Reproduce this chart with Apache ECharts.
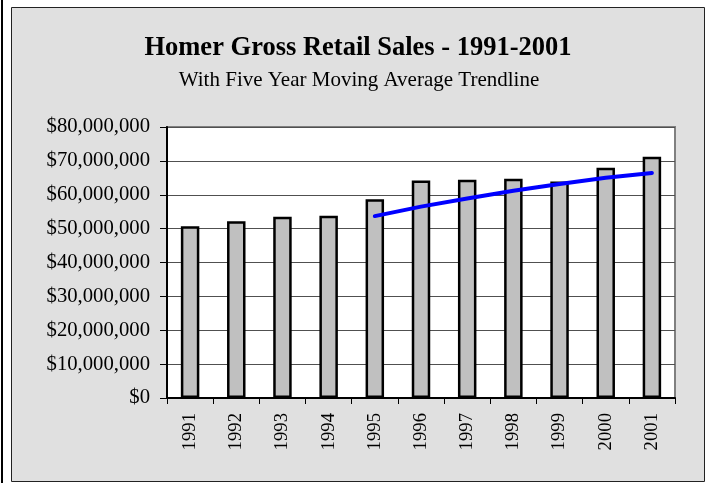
<!DOCTYPE html>
<html>
<head>
<meta charset="utf-8">
<script src="https://cdn.jsdelivr.net/npm/echarts@6/dist/echarts.min.js"></script>
<style>
html,body{margin:0;padding:0;background:#fff;}
#c{width:709px;height:483px;}
</style>
</head>
<body>
<div id="c"></div>
<script>
var years = ['1991','1992','1993','1994','1995','1996','1997','1998','1999','2000','2001'];
var sales = [50700000, 52200000, 53500000, 53800000, 58700000, 64200000, 64400000, 64700000, 63900000, 68000000, 71200000];
var trend = [null, null, null, null, 53700000, 56500000, 58900000, 61200000, 63200000, 65000000, 66400000];
var titleText = 'Homer Gross Retail Sales - 1991-2001';
var subtitleText = 'With Five Year Moving Average Trendline';
var yMin = 0, yMax = 80000000, yStep = 10000000;

var FONT = '"Liberation Serif", "Times New Roman", serif';
var chart = echarts.init(document.getElementById('c'), null, {renderer: 'canvas'});
chart.setOption({
  animation: false,
  backgroundColor: '#ffffff',
  graphic: [
    {type: 'rect', z: -10, silent: true, shape: {x: 1, y: 0, width: 2, height: 483}, style: {fill: '#000'}},
    {type: 'rect', z: -10, silent: true, shape: {x: 11.5, y: 7.5, width: 693, height: 474}, style: {fill: '#e0e0e0', stroke: '#222', lineWidth: 1}},
    {type: 'text', z: 10, x: 358, y: 48.5, style: {text: titleText, fill: '#000', font: 'bold 26.5px ' + FONT, textAlign: 'center', textVerticalAlign: 'middle'}},
    {type: 'text', z: 10, x: 359, y: 80.5, style: {text: subtitleText, fill: '#000', font: '21px ' + FONT, textAlign: 'center', textVerticalAlign: 'middle'}}
  ],
  grid: {left: 167, right: 34, top: 127, bottom: 85, show: true, backgroundColor: '#ffffff', borderColor: '#808080', borderWidth: 2, containLabel: false},
  xAxis: {
    type: 'category',
    data: years,
    boundaryGap: true,
    axisLine: {show: true, lineStyle: {color: '#000', width: 2}},
    axisTick: {show: true, length: 6, inside: false, lineStyle: {color: '#000', width: 1}},
    axisLabel: {rotate: 90, margin: 15, fontSize: 18.7, fontFamily: FONT, color: '#000', interval: 0},
    splitLine: {show: false}
  },
  yAxis: {
    type: 'value',
    min: yMin, max: yMax, interval: yStep,
    axisLine: {show: true, lineStyle: {color: '#000', width: 2}},
    axisTick: {show: true, length: 7, lineStyle: {color: '#000', width: 1}},
    axisLabel: {margin: 17, fontSize: 20.7, fontFamily: FONT, color: '#000',
      formatter: function (v) { return '$' + Number(v).toLocaleString('en-US'); }},
    splitLine: {show: true, lineStyle: {color: '#505050', width: 1}}
  },
  series: [
    {
      type: 'bar', data: sales, barWidth: '40%',
      itemStyle: {color: '#c0c0c0', borderColor: '#000', borderWidth: 2.5},
      silent: true
    },
    {
      type: 'line', data: trend, showSymbol: false, symbol: 'none', connectNulls: false,
      lineStyle: {color: '#0000ff', width: 4, cap: 'round'},
      z: 5, silent: true
    }
  ]
});
</script>
</body>
</html>
